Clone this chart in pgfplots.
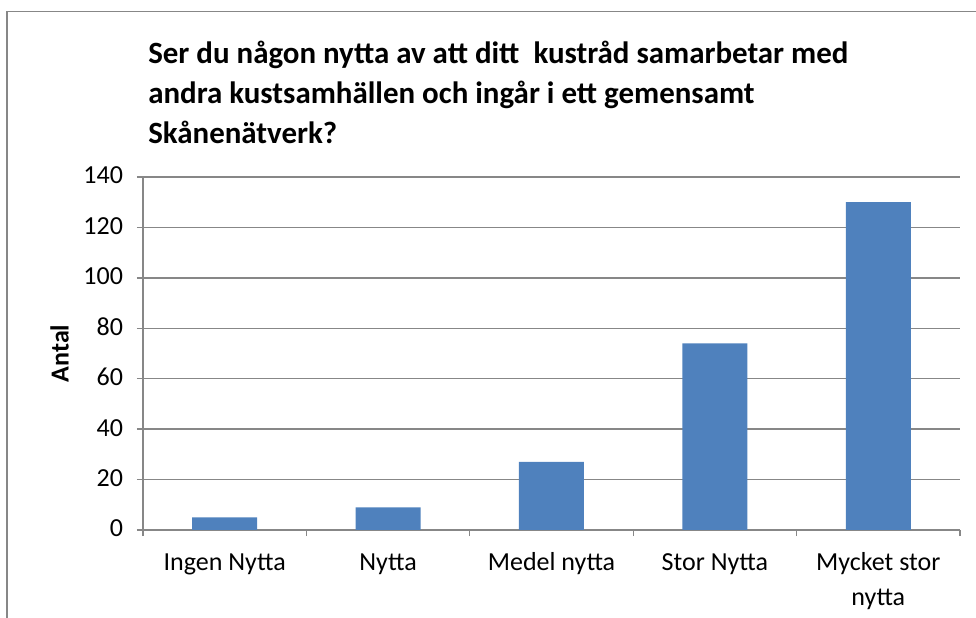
\documentclass[border=0pt]{standalone}
\usepackage{pgfplots}
\pgfplotsset{compat=1.18}
\usepackage{fontspec}
\setmainfont{Carlito}
\definecolor{barblue}{HTML}{4F81BD}
\definecolor{gridgray}{HTML}{878787}
\begin{document}
\begin{tikzpicture}[x=0.75pt,y=0.75pt]
% page size and chart frame (1 unit = 1 px of the reference)
\path[use as bounding box] (0,0) rectangle (976,618);
\draw[gridgray,line width=1.2pt] (7,0) -- (7,606.5) -- (976,606.5);
\coordinate (origin) at (143,88);
\node[anchor=north west,align=left,font=\bfseries\fontsize{23.2}{30}\selectfont,inner sep=0pt]
  at (148,577) {Ser du någon nytta av att ditt\ \ kustråd samarbetar med\\andra kustsamhällen och ingår i ett gemensamt\\Skånenätverk?};
\begin{axis}[
    at={(origin)}, anchor=south west,
    scale only axis, width=612.75pt, height=264.75pt,
    xmin=-0.5, xmax=4.5, ymin=0, ymax=140,
    ytick={0,20,...,140},
    xtick={0,1,2,3,4},
    xticklabels={Ingen Nytta, Nytta, Medel nytta, Stor Nytta, Mycket stor\\nytta},
    minor xtick={-0.5,0.5,...,4.5},
    axis x line*=bottom, axis y line*=left,
    axis line style={gridgray,line width=1pt},
    tick align=outside,
    major tick length=4.5pt, minor tick length=4.5pt,
    x tick style={draw=none},
    minor x tick style={draw=gridgray,line width=1pt},
    y tick style={gridgray,line width=1pt},
    ymajorgrids, grid style={gridgray,line width=1pt},
    /pgf/number format/assume math mode=true,
    typeset ticklabels with strut,
    ticklabel style={font=\fontsize{19.5}{26}\selectfont},
    xticklabel style={align=center, yshift=-4.5pt},
    yticklabel style={xshift=-7pt},
    ylabel={\bfseries Antal},
    ylabel shift=4pt,
    ylabel style={font=\fontsize{19.5}{23}\selectfont},
    ybar, bar width=48.75pt,
]
\addplot[fill=barblue, draw=none] coordinates {(0,5) (1,9) (2,27) (3,74) (4,130)};
\end{axis}
\end{tikzpicture}
\end{document}
